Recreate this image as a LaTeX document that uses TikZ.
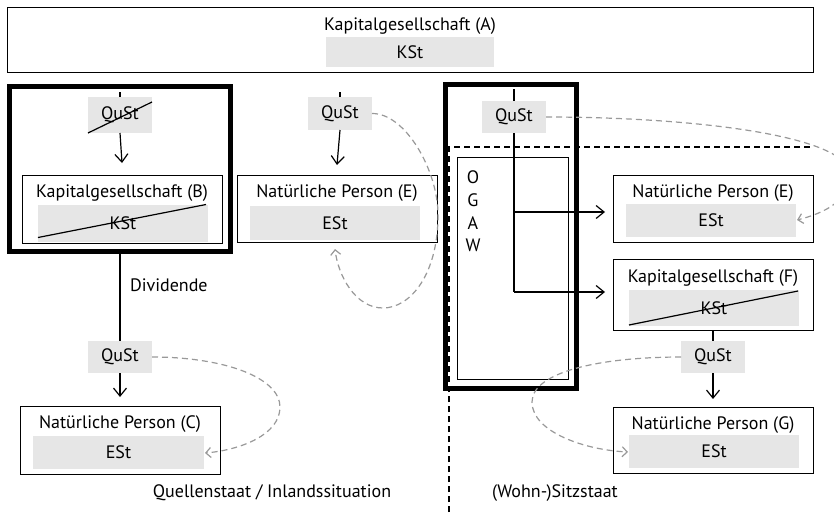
\documentclass[tikz,border=0pt]{standalone}
\usepackage{fontspec}
\setmainfont{PT Sans}
\usetikzlibrary{arrows.meta}
\definecolor{gfill}{HTML}{E6E6E6}
\definecolor{dgray}{HTML}{999999}
\begin{document}
\begin{tikzpicture}[x=1pt,y=-1pt,
  every node/.style={font=\fontsize{18}{20}\selectfont, inner sep=0pt, outer sep=0pt},
  box/.style={draw, line width=1pt, minimum width=200pt, minimum height=67pt},
  frame/.style={draw, line width=5pt, minimum width=#1},
  gbox/.style={fill=gfill, minimum width=170pt, minimum height=34pt},
  qbox/.style={fill=gfill, minimum width=64pt, minimum height=33pt},
  flow/.style={line width=1.2pt, -{Straight Barb[length=8pt,width=13pt,line width=1.2pt]}},
  plain/.style={line width=1.2pt},
  strike/.style={line width=1.2pt},
  tax/.style={dgray, line width=1.2pt, dash pattern=on 6pt off 4pt, -{Straight Barb[length=5pt,width=10pt,line width=1.2pt]}},
  border/.style={line width=1.2pt, dash pattern=on 6pt off 4pt}
  ]
\useasboundingbox (0,0) rectangle (834,512);
\clip (0,0) rectangle (834,512);

% top
\node[draw, line width=1pt, minimum width=806pt, minimum height=65pt] (A) at (410,39.5) {};
\node (At) at (410,26) {Kapitalgesellschaft (A)};
\node[gbox, minimum width=168pt, minimum height=30pt] (kA) at (410,52) {KSt};

% left column
\node[frame=221pt, minimum height=165pt] (Bf) at (120,169) {};
\node[qbox, minimum height=36pt] (qB) at (120,115) {QuSt};
\node[box, minimum height=68pt] (B) at (122,209) {};
\node (Bt) at (122,193) {Kapitalgesellschaft (B)};
\node[gbox, minimum height=37pt] (kB) at (123,223) {KSt};
\coordinate (sB) at (120,92);
\draw[plain] (sB) -- (qB.north);
\draw[flow] (qB.south) -- ([yshift=12pt]B.north);
\draw[strike] (qB.south west) -- ([yshift=-5pt]qB.north east);
\draw[strike] ([yshift=4pt,xshift=0pt]kB.south west) -- ([xshift=-2pt]kB.north east);

\node[qbox, minimum height=32pt] (qC) at (120,357) {QuSt};
\draw[plain] (Bf.south) -- (qC.north);
\node[anchor=west] (div) at (130,285) {Dividende};
\node[box, minimum height=68pt] (C) at (120,440) {};
\node (Ct) at (120,424) {Natürliche Person (C)};
\node[gbox, minimum width=171pt, minimum height=33pt] (eC) at (118.5,452.5) {ESt};
\draw[flow] (qC.south) -- ([yshift=9pt]C.north);
\coordinate (tC) at (205,453);
\draw[tax] (qC.east) .. controls (225,357) and (280,378) .. (280,407)
  .. controls (280,435) and (240,450) .. (tC);

% middle column
\node[qbox] (qE) at (340,113.5) {QuSt};
\coordinate (sE) at (340,92);
\draw[plain] (sE) -- (qE.north);
\node[box] (E1) at (337,208.5) {};
\node (E1t) at (337,193) {Natürliche Person (E)};
\node[gbox] (eE1) at (335,223) {ESt};
\draw[flow] (qE.south) -- ([yshift=10pt]E1.north);
\coordinate (tE) at (335,249);
\draw[tax] (qE.east) .. controls (405,113) and (438,170) .. (438,215)
  .. controls (438,275) and (410,308) .. (383,308)
  .. controls (355,308) and (338,275) .. (tE);

% OGAW
\node[frame=131pt, minimum height=304pt] (Of) at (511,236.5) {};
\node[draw, line width=1pt, minimum width=111pt, minimum height=222pt] (O) at (512.5,268) {};
\node (o1) at (473,177) {O};
\node (o2) at (473,200) {G};
\node (o3) at (473,223) {A};
\node (o4) at (473,245) {W};
\node[qbox, minimum height=32pt] (qO) at (514,117) {QuSt};
\coordinate (sO) at (514,89);
\coordinate (j1) at (514,212);
\coordinate (j2) at (514,292);
\draw[plain] (sO) -- (qO.north);
\draw[plain] (qO.south) -- (j2);

% region border
\coordinate (d1) at (449,512);
\coordinate (d2) at (449,147);
\coordinate (d3) at (812,147);
\draw[border] (d1) -- (d2) -- (d3);

% right column
\node[box] (E2) at (713,208.5) {};
\node (E2t) at (713,193) {Natürliche Person (E)};
\node[gbox, minimum height=33pt] (eE2) at (711,220.5) {ESt};
\node[box, minimum height=71pt] (F) at (713,294.5) {};
\node (Ft) at (713,278) {Kapitalgesellschaft (F)};
\node[gbox, minimum height=36pt] (kF) at (714,308) {KSt};
\draw[strike] ([yshift=1pt]kF.south west) -- ([xshift=-1pt,yshift=-1pt]kF.north east);
\draw[flow, shorten >=8pt] (j1) -- (j1 -| E2.west);
\draw[flow, shorten >=8pt] (j2) -- (j2 -| F.west);
\coordinate (tE2) at (797,220);
\draw[tax] (qO.east) .. controls (690,117) and (850,135) .. (850,175)
  .. controls (850,200) and (825,213) .. (tE2);

\node[qbox, minimum height=32pt] (qG) at (713,357) {QuSt};
\draw[plain] (F.south) -- (qG.north);
\node[box, minimum height=66pt] (G) at (713,440) {};
\node (Gt) at (713,425) {Natürliche Person (G)};
\node[gbox, minimum height=33pt] (eG) at (714,451.5) {ESt};
\draw[flow] (qG.south) -- ([yshift=8pt]G.north);
\coordinate (tG) at (628,452);
\draw[tax] (qG.west) .. controls (600,357) and (532,372) .. (532,402)
  .. controls (532,432) and (585,450) .. (tG);

% labels
\node (lq) at (272,493) {Quellenstaat / Inlandssituation};
\node (ls) at (555,493) {(Wohn-)Sitzstaat};
\end{tikzpicture}
\end{document}
